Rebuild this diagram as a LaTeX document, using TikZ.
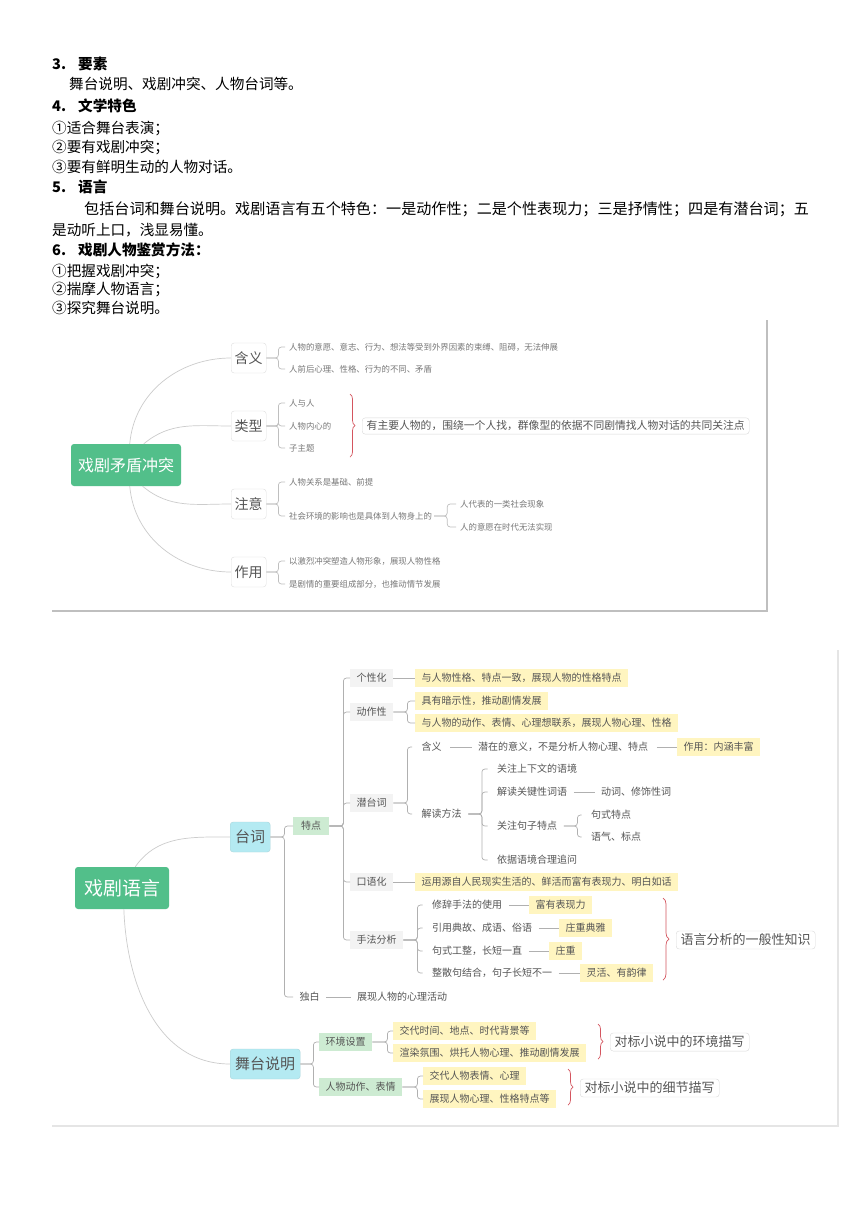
\documentclass[tikz,border=0pt]{standalone}
\usepackage{fontspec}
\setmainfont{Noto Sans CJK SC}
\usetikzlibrary{positioning,decorations.pathreplacing}
\definecolor{rootgreen}{HTML}{52BF8A}
\definecolor{capblue}{HTML}{B4EAF2}
\definecolor{mint}{HTML}{CDEBD2}
\definecolor{paper}{HTML}{F3F3F3}
\definecolor{marker}{HTML}{FFF5C0}
\definecolor{ink}{HTML}{555555}
\definecolor{wire}{HTML}{B0B0B0}
\definecolor{curlyred}{HTML}{D4555F}
\newcommand{\fsz}[1]{\fontsize{#1}{#1}\selectfont}
\tikzset{
  para/.style={anchor=west,inner sep=0pt,font=\fsz{14.6}},
  head/.style={para,font=\fsz{14.6}\bfseries},
  rootbox/.style={fill=rootgreen,text=white,rounded corners=3pt,minimum height=42pt,inner xsep=7pt},
  topic/.style={anchor=west,draw=black!13,fill=white,rounded corners=3pt,minimum height=30pt,inner xsep=3.5pt,text=ink,font=\fsz{14}},
  capbox/.style={anchor=west,draw=capblue!80!gray,fill=capblue,rounded corners=3pt,minimum height=30pt,inner xsep=5pt,text=ink,font=\fsz{15}},
  twig/.style={anchor=west,inner sep=2pt,text=ink!80,font=\fsz{8.4}},
  tag/.style={anchor=west,inner xsep=6.5pt,inner ysep=0pt,minimum height=17.5pt,text=ink,font=\fsz{10}},
  graytag/.style={tag,fill=paper},
  minttag/.style={tag,fill=mint},
  yelltag/.style={tag,fill=marker},
  note/.style={anchor=west,draw=black!15,fill=white,rounded corners=3pt,inner xsep=4.5pt,inner ysep=3pt,text=ink},
  link/.style={draw=wire,line width=0.7pt,rounded corners=3pt},
  stem/.style={draw=black!20,line width=0.7pt},
  curly/.style={draw=curlyred,line width=0.7pt,decorate,decoration={brace,amplitude=5pt}}
}

\begin{document}
\begin{tikzpicture}[x=1pt,y=-1pt]
\fill[white] (0,0) rectangle (860,1216);
\useasboundingbox (0,0) rectangle (860,1216);

% text above the maps
\node[head] (t3) at (52,64) {3.\hspace{12pt}要素};
\node[para] (t3a) at (69,84) {舞台说明、戏剧冲突、人物台词等。};
\node[head] (t4) at (52,106) {4.\hspace{12pt}文学特色};
\node[para] (t4a) at (52,128) {①适合舞台表演；};
\node[para] (t4b) at (52,147) {②要有戏剧冲突；};
\node[para] (t4c) at (52,167) {③要有鲜明生动的人物对话。};
\node[head] (t5) at (52,187) {5.\hspace{12pt}语言};
\node[para,font=\fsz{15.1}] (t5a) at (84,209) {包括台词和舞台说明。戏剧语言有五个特色：一是动作性；二是个性表现力；三是抒情性；四是有潜台词；五};
\node[para] (t5b) at (52,230) {是动听上口，浅显易懂。};
\node[head] (t6) at (52,250) {6.\hspace{12pt}戏剧人物鉴赏方法：};
\node[para] (t6a) at (52,271) {①把握戏剧冲突；};
\node[para] (t6b) at (52,289) {②揣摩人物语言；};
\node[para] (t6c) at (52,308) {③探究舞台说明。};

% map 1
\draw[line width=1.5pt,black!25] (52,611) -- (767,611) -- (767,320);
\node[rootbox,font=\fsz{16}] (r1) at (126,465) {戏剧矛盾冲突};
\node[topic] (hy) at (231,358) {含义};
\node[topic] (lx) at (231,426) {类型};
\node[topic] (zy) at (231,504) {注意};
\node[topic] (zu) at (231,572) {作用};
\draw[stem] (r1.80) to[out=85,in=180] (hy.west);
\draw[stem] (r1.50) to[out=40,in=180] (lx.west);
\draw[stem] (r1.-52) to[out=-40,in=180] (zy.west);
\draw[stem] (r1.-80) to[out=-85,in=180] (zu.west);

\node[twig] (hy1) at (287,347) {人物的意愿、意志、行为、想法等受到外界因素的束缚、阻碍，无法伸展};
\node[twig] (hy2) at (287,369) {人前后心理、性格、行为的不同、矛盾};
\node[twig] (lx1) at (287,403) {人与人};
\node[twig] (lx2) at (287,426) {人物内心的};
\node[twig] (lx3) at (287,448) {子主题};
\node[twig] (zy1) at (287,482) {人物关系是基础、前提};
\node[twig] (zy2) at (287,516) {社会环境的影响也是具体到人物身上的};
\node[twig] (zy21) at (458,504) {人代表的一类社会现象};
\node[twig] (zy22) at (458,527) {人的意愿在时代无法实现};
\node[twig] (zu1) at (287,561) {以激烈冲突塑造人物形象，展现人物性格};
\node[twig] (zu2) at (287,584) {是剧情的重要组成部分，也推动情节发展};
\foreach \p/\c in {hy/hy1,hy/hy2,lx/lx1,lx/lx2,lx/lx3,zy/zy1,zy/zy2,zu/zu1,zu/zu2}
  \draw[link,draw=black!25,shorten >=2pt] (\p.east) -- ++(12,0) |- (\c.west);
\foreach \c in {zy21,zy22}
  \draw[link,draw=black!25,shorten >=2pt] (zy2.east) -- ++(13,0) |- (\c.west);
\node[note,font=\fsz{10.8}] (lxnote) at (362,426) {有主要人物的，围绕一个人找，群像型的依据不同剧情找人物对话的共同关注点};
\draw[curly] ([xshift=-12pt,yshift=32pt]lxnote.west) -- ([xshift=-12pt,yshift=-31pt]lxnote.west);

% map 2
\draw[line width=2.5pt,black!10] (52,1126) -- (838,1126) -- (838,650);
\node[rootbox,font=\fsz{19},inner xsep=9pt] (r2) at (122,888) {戏剧语言};
\node[capbox] (tc) at (230,837) {台词};
\node[capbox] (wt) at (230,1064) {舞台说明};
\draw[stem] (r2.58) to[out=55,in=180] (tc.west);
\draw[stem] (r2.-85) to[out=-88,in=180] (wt.west);

% 台词
\node[minttag,inner xsep=8pt] (td) at (293,826) {特点};
\node[tag] (db) at (293,997) {独白};
\foreach \c in {td,db}
  \draw[link] (tc.east) -- ++(14,0) |- (\c.west);
\node[tag] (db1) at (350.5,997) {展现人物的心理活动};
\draw[link] (db.east) -- (db1.west);

\node[graytag] (gx) at (350,678) {个性化};
\node[graytag] (dz) at (350,712) {动作性};
\node[graytag] (qt) at (350,803) {潜台词};
\node[graytag] (ky) at (350,882) {口语化};
\node[graytag] (sf) at (350,940) {手法分析};
\foreach \c in {gx,dz,qt,ky,sf}
  \draw[link] (td.east) -- ++(14,0) |- (\c.west);

\node[yelltag] (gx1) at (415,678) {与人物性格、特点一致，展现人物的性格特点};
\draw[link] (gx.east) -- (gx1.west);
\node[yelltag] (dz1) at (415,701) {具有暗示性，推动剧情发展};
\node[yelltag] (dz2) at (415,723) {与人物的动作、表情、心理想联系，展现人物心理、性格};
\foreach \c in {dz1,dz2}
  \draw[link] (dz.east) -- ++(14,0) |- (\c.west);
\node[yelltag] (ky1) at (415,882) {运用源自人民现实生活的、鲜活而富有表现力、明白如话};
\draw[link] (ky.east) -- (ky1.west);

% 潜台词
\node[tag] (qt1) at (415,747) {含义};
\node[tag] (qt2) at (415,814) {解读方法};
\foreach \c in {qt1,qt2}
  \draw[link,shorten >=3pt] (qt.east) -- ++(14,0) |- (\c.west);
\node[tag] (qt11) at (471.5,747) {潜在的意义，不是分析人物心理、特点};
\node[yelltag] (qt12) at (677,747) {作用：内涵丰富};
\draw[link,shorten <=2pt] (qt1.east) -- (qt11.west);
\draw[link,shorten <=2pt] (qt11.east) -- (qt12.west);
\node[tag] (jd1) at (490.5,769) {关注上下文的语境};
\node[tag] (jd2) at (490.5,792) {解读关键性词语};
\node[tag] (jd3) at (490.5,826) {关注句子特点};
\node[tag] (jd4) at (490.5,860) {依据语境合理追问};
\foreach \c in {jd1,jd2,jd3,jd4}
  \draw[link,shorten >=3pt] (qt2.east) -- ++(13.5,0) |- (\c.west);
\node[tag] (jd21) at (594.5,792) {动词、修饰性词};
\draw[link] (jd2.east) -- (jd21.west);
\node[tag] (jd31) at (584.5,815) {句式特点};
\node[tag] (jd32) at (584.5,837) {语气、标点};
\foreach \c in {jd31,jd32}
  \draw[link,shorten >=3pt] (jd3.east) -- ++(13.5,0) |- (\c.west);

% 手法分析
\node[tag] (sf1) at (425.5,905) {修辞手法的使用};
\node[tag] (sf2) at (425.5,928) {引用典故、成语、俗语};
\node[tag] (sf3) at (425.5,951) {句式工整，长短一直};
\node[tag] (sf4) at (425.5,973) {整散句结合，句子长短不一};
\foreach \c in {sf1,sf2,sf3,sf4}
  \draw[link,shorten >=3pt] (sf.east) -- ++(14,0) |- (\c.west);
\node[yelltag] (sfa) at (529,905) {富有表现力};
\node[yelltag] (sfb) at (559,928) {庄重典雅};
\node[yelltag] (sfc) at (549,951) {庄重};
\node[yelltag] (sfd) at (580,973) {灵活、有韵律};
\foreach \a/\b in {sf1/sfa,sf2/sfb,sf3/sfc,sf4/sfd}
  \draw[link] (\a.east) -- (\b.west);
\node[note,font=\fsz{13}] (sfnote) at (676,940) {语言分析的一般性知识};
\draw[curly,decoration={amplitude=6pt}] ([xshift=-13pt,yshift=42pt]sfnote.west) -- ([xshift=-13pt,yshift=-40pt]sfnote.west);

% 舞台说明
\node[minttag] (hj) at (319,1042) {环境设置};
\node[minttag] (rw) at (319,1087) {人物动作、表情};
\foreach \c in {hj,rw}
  \draw[link] (wt.east) -- ++(13,0) |- (\c.west);
\node[yelltag] (hj1) at (393,1031) {交代时间、地点、时代背景等};
\node[yelltag] (hj2) at (393,1053) {渲染氛围、烘托人物心理、推动剧情发展};
\foreach \c in {hj1,hj2}
  \draw[link] (hj.east) -- ++(15,0) |- (\c.west);
\node[yelltag] (rw1) at (423,1076) {交代人物表情、心理};
\node[yelltag] (rw2) at (423,1099) {展现人物心理、性格特点等};
\foreach \c in {rw1,rw2}
  \draw[link] (rw.east) -- ++(15,0) |- (\c.west);
\node[note,font=\fsz{13}] (hjnote) at (610,1042) {对标小说中的环境描写};
\draw[curly] ([xshift=-12pt,yshift=18pt]hjnote.west) -- ([xshift=-12pt,yshift=-17pt]hjnote.west);
\node[note,font=\fsz{13}] (rwnote) at (580,1088) {对标小说中的细节描写};
\draw[curly] ([xshift=-12pt,yshift=19pt]rwnote.west) -- ([xshift=-12pt,yshift=-17pt]rwnote.west);
\end{tikzpicture}
\end{document}
